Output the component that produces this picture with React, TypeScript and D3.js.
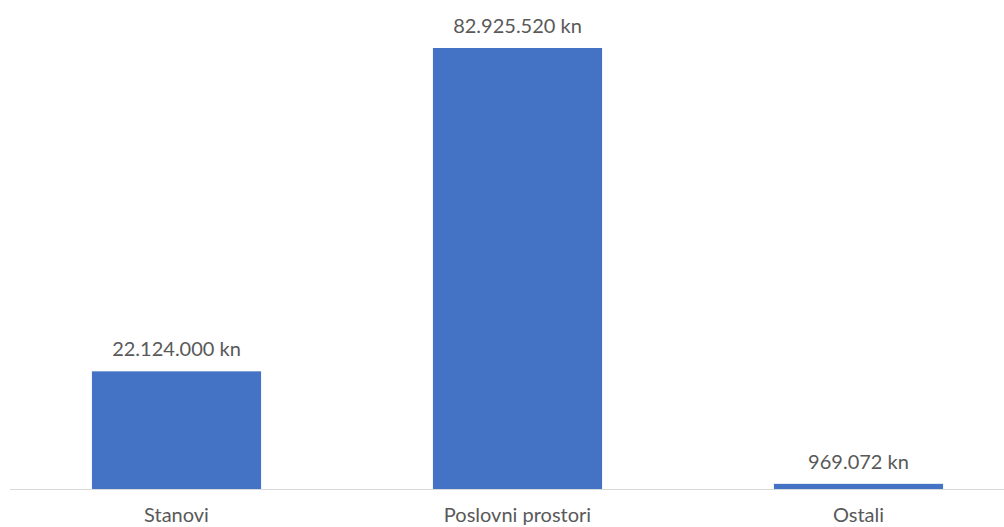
import * as d3 from 'd3';

const categories = ['Stanovi', 'Poslovni prostori', 'Ostali'];
const values = [22124000, 82925520, 969072];
const valueLabels = ['22.124.000 kn', '82.925.520 kn', '969.072 kn'];

const width = 1004;
const height = 527;
const baseline = 489;
const barColor = '#4472C4';
const textColor = '#595959';
const font = 'Lato, "Open Sans", sans-serif';

export default function App() {
  const x = d3
    .scaleBand<string>()
    .domain(categories)
    .range([6, 1029])
    .paddingInner(0.504)
    .paddingOuter(0.252);

  const y = d3
    .scaleLinear()
    .domain([0, d3.max(values) || 0])
    .range([baseline, 48]);

  return (
    <svg
      width={width}
      height={height}
      style={{ position: 'absolute', left: 0, top: 0, background: '#fff' }}
    >
      {categories.map((c, i) => (
        <g key={c}>
          <rect
            x={x(c)}
            y={y(values[i])}
            width={x.bandwidth()}
            height={baseline - y(values[i])}
            fill={barColor}
          />
          <text
            x={(x(c) || 0) + x.bandwidth() / 2}
            y={y(values[i]) - 15}
            textAnchor="middle"
            fontFamily={font}
            fontSize={20}
            fill={textColor}
          >
            {valueLabels[i]}
          </text>
          <text
            x={(x(c) || 0) + x.bandwidth() / 2}
            y={baseline + 33}
            textAnchor="middle"
            fontFamily={font}
            fontSize={20}
            fill={textColor}
          >
            {c}
          </text>
        </g>
      ))}
      <line x1={10} x2={width} y1={baseline + 0.5} y2={baseline + 0.5} stroke="#d9d9d9" strokeWidth={1} />
    </svg>
  );
}
